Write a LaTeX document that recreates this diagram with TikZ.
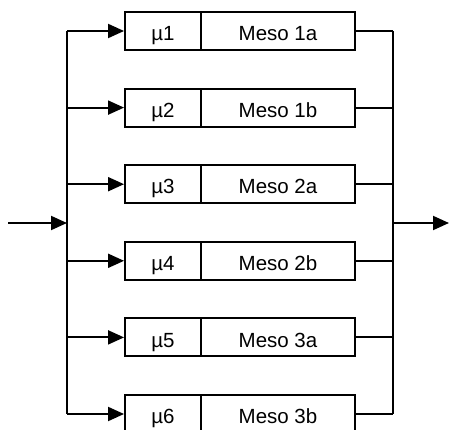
\documentclass[tikz,border=0pt]{standalone}
\usepackage{fontspec}
\setmainfont{Liberation Sans}
\usetikzlibrary{arrows.meta}
\begin{document}
\begin{tikzpicture}[x=1pt,y=-1pt,
  line width=1.9pt,
  cell/.style={draw, minimum height=38pt, inner sep=0pt, text height=20pt, text depth=0.6pt,
    font=\fontsize{20.5}{24}\selectfont},
  mucell/.style={cell, minimum width=76pt},
  mesocell/.style={cell, minimum width=154pt},
  feed/.style={-{Triangle[length=16pt,width=14pt]}}]
\useasboundingbox (0,0) rectangle (449,430);

% input and output points, and the two vertical buses
\coordinate (in) at (8,223);
\coordinate (lb) at (67,223);
\coordinate (rb) at (393,223);
\coordinate (out) at (449,223);
\coordinate (lbtop) at (67,31);
\coordinate (lbbot) at (67,414);
\coordinate (rbtop) at (393,31);
\coordinate (rbbot) at (393,414);

% the six parallel stages
\foreach \i/\y/\lab in {1/31/Meso 1a, 2/107.6/Meso 1b, 3/184.2/Meso 2a,
                        4/260.8/Meso 2b, 5/337.4/Meso 3a, 6/414/Meso 3b}{
  \node[mucell] (mu\i) at (163,\y) {µ\i};
  \node[mesocell] (meso\i) at (278,\y) {\lab};
  \draw[feed] (mu\i.west -| lb) -- (mu\i.west);
  \draw (meso\i.east) -- (meso\i.east -| rb);
}

\draw (lbtop) -- (lbbot);
\draw (rbtop) -- (rbbot);
\draw[feed] (in) -- (lb);
\draw[feed] (rb) -- (out);
\end{tikzpicture}
\end{document}
